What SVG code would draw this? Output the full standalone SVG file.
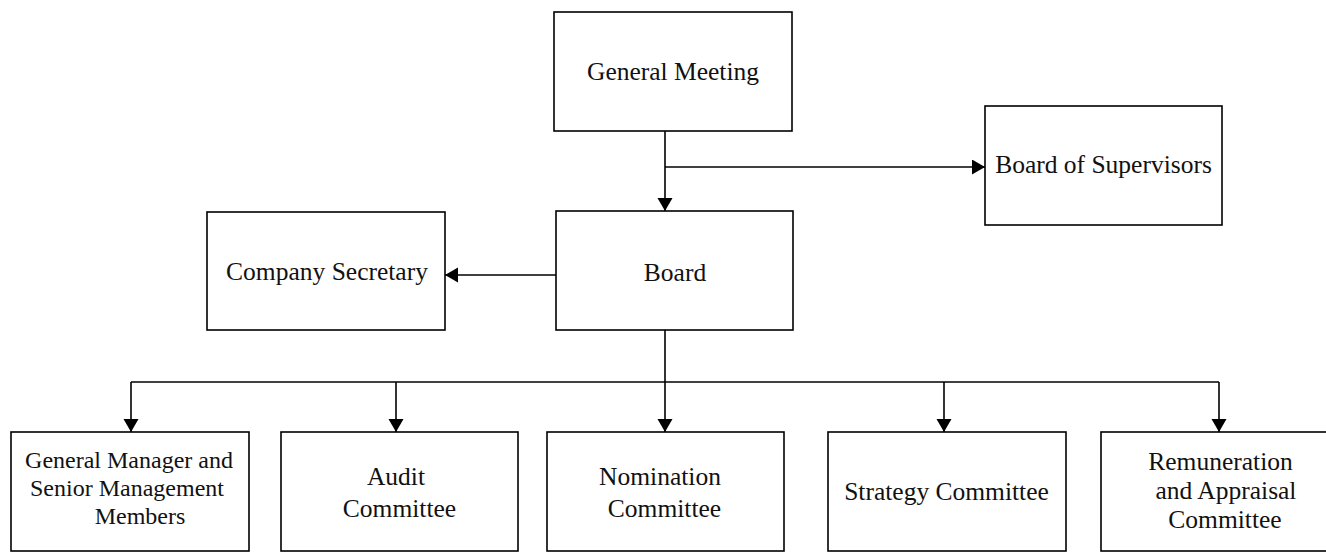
<svg xmlns="http://www.w3.org/2000/svg" width="1326" height="552" viewBox="0 0 1326 552">
  <style>
    .box { fill: #ffffff; stroke: #000000; stroke-width: 1.6; }
    .lbl { font-family: "Liberation Serif", "Times New Roman", serif; font-size: 25.5px; fill: #111111; text-anchor: middle; }
    .lbl.tight { font-size: 24px; }
    .wire { fill: none; stroke: #000000; stroke-width: 1.6; }
  </style>
  <defs>
    <marker id="arrow" markerUnits="userSpaceOnUse" markerWidth="14" markerHeight="16" refX="13" refY="7.5" orient="auto">
      <path d="M0,0 L13,7.5 L0,15 z" fill="#000000"/>
    </marker>
  </defs>
  <rect width="1326" height="552" fill="#ffffff"/>

  <!-- connectors -->
  <g id="connectors">
    <path class="wire" d="M665,131 L665,211" marker-end="url(#arrow)"/>
    <path class="wire" d="M665,167 L985,167" marker-end="url(#arrow)"/>
    <path class="wire" d="M556,275 L445,275" marker-end="url(#arrow)"/>
    <path class="wire" d="M665,330 L665,382"/>
    <path class="wire" d="M131,382 L1219,382"/>
    <path class="wire" d="M131,382 L131,432" marker-end="url(#arrow)"/>
    <path class="wire" d="M396,382 L396,432" marker-end="url(#arrow)"/>
    <path class="wire" d="M665,382 L665,432" marker-end="url(#arrow)"/>
    <path class="wire" d="M944,382 L944,432" marker-end="url(#arrow)"/>
    <path class="wire" d="M1219,382 L1219,432" marker-end="url(#arrow)"/>
  </g>

  <!-- nodes -->
  <g id="general-meeting">
    <rect class="box" x="554" y="12" width="238" height="119"/>
    <text class="lbl" x="673" y="80">General Meeting</text>
  </g>
  <g id="board-of-supervisors">
    <rect class="box" x="985" y="106" width="237" height="119"/>
    <text class="lbl" x="1103.5" y="173">Board of Supervisors</text>
  </g>
  <g id="board">
    <rect class="box" x="556" y="211" width="237" height="119"/>
    <text class="lbl" x="675" y="281">Board</text>
  </g>
  <g id="company-secretary">
    <rect class="box" x="207" y="212" width="238" height="118"/>
    <text class="lbl" x="327" y="280">Company Secretary</text>
  </g>
  <g id="general-manager">
    <rect class="box" x="11" y="432" width="238" height="119"/>
    <text class="lbl tight" x="129" y="468">General Manager and</text>
    <text class="lbl tight" x="127" y="496">Senior Management</text>
    <text class="lbl tight" x="140" y="524">Members</text>
  </g>
  <g id="audit-committee">
    <rect class="box" x="281" y="432" width="237" height="119"/>
    <text class="lbl" x="396" y="485">Audit</text>
    <text class="lbl" x="399.5" y="517">Committee</text>
  </g>
  <g id="nomination-committee">
    <rect class="box" x="547" y="432" width="237" height="119"/>
    <text class="lbl" x="660" y="485">Nomination</text>
    <text class="lbl" x="664.5" y="517">Committee</text>
  </g>
  <g id="strategy-committee">
    <rect class="box" x="828" y="432" width="238" height="119"/>
    <text class="lbl" x="946.5" y="500">Strategy Committee</text>
  </g>
  <g id="remuneration-committee">
    <rect class="box" x="1101" y="432" width="237" height="119"/>
    <text class="lbl" x="1220.5" y="470">Remuneration</text>
    <text class="lbl" x="1226" y="499">and Appraisal</text>
    <text class="lbl" x="1225" y="528">Committee</text>
  </g>
</svg>
